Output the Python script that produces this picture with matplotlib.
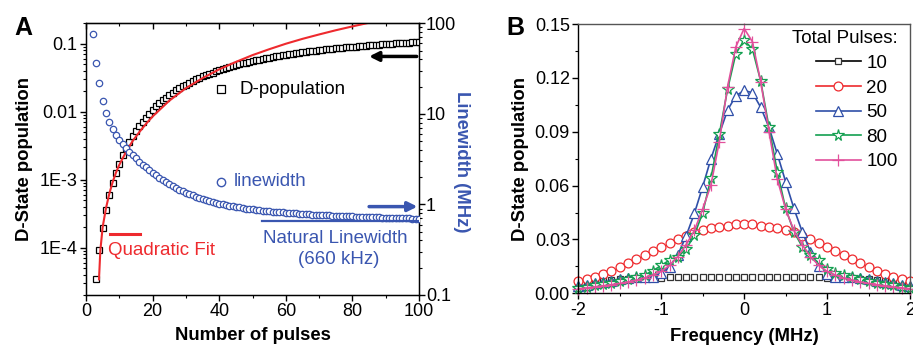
import numpy as np
import matplotlib
matplotlib.use("Agg")
import matplotlib.pyplot as plt
from matplotlib.lines import Line2D
from matplotlib.ticker import MultipleLocator, NullFormatter, LogLocator

plt.rcParams['font.family'] = ['Liberation Sans', 'DejaVu Sans']

# ---------------- Panel A data ----------------
pulses_d = list(range(3, 101))
d_pop = [3.4e-5, 9.2e-5, 1.95e-4, 3.55e-4, 5.9e-4, 8.9e-4, 1.26e-3, 1.7e-3, 2.27e-3, 2.9e-3,
         3.6e-3, 4.4e-3, 5.2e-3, 6.1e-3, 7.1e-3, 8.1e-3, 9.3e-3, 0.0106, 0.0120, 0.0133,
         0.0146, 0.0160, 0.0175, 0.0190, 0.0205, 0.0220, 0.0235, 0.0250, 0.0266, 0.0282,
         0.0298, 0.0314, 0.0330, 0.0346, 0.0362, 0.0377, 0.0392, 0.0407, 0.0422, 0.0437,
         0.0452, 0.0467, 0.0482, 0.0497, 0.0512, 0.0527, 0.0541, 0.0555, 0.0569, 0.0583,
         0.0597, 0.0611, 0.0625, 0.0638, 0.0651, 0.0664, 0.0677, 0.0690, 0.0702, 0.0714,
         0.0726, 0.0738, 0.0750, 0.0761, 0.0772, 0.0783, 0.0794, 0.0805, 0.0815, 0.0825,
         0.0835, 0.0845, 0.0855, 0.0865, 0.0874, 0.0883, 0.0892, 0.0901, 0.0910, 0.0919,
         0.0928, 0.0937, 0.0945, 0.0953, 0.0961, 0.0969, 0.0977, 0.0985, 0.0993, 0.1001,
         0.1009, 0.1017, 0.1024, 0.1031, 0.1038, 0.1045, 0.1052, 0.1059]

pulses_lw = list(range(2, 101))
linewidth = [75.7, 36.7, 21.8, 14.0, 10.3, 8.2, 6.76, 5.85, 5.15, 4.65,
             4.24, 3.83, 3.52, 3.23, 2.97, 2.75, 2.57, 2.40, 2.25, 2.10,
             1.98, 1.87, 1.77, 1.68, 1.60, 1.53, 1.46, 1.40, 1.35, 1.30,
             1.26, 1.22, 1.18, 1.15, 1.12, 1.09, 1.065, 1.04, 1.02, 1.0,
             0.98, 0.965, 0.95, 0.94, 0.925, 0.912, 0.90, 0.89, 0.88, 0.87,
             0.862, 0.855, 0.848, 0.841, 0.834, 0.828, 0.822, 0.816, 0.81, 0.805,
             0.80, 0.795, 0.79, 0.786, 0.782, 0.778, 0.774, 0.77, 0.766, 0.763,
             0.76, 0.757, 0.754, 0.751, 0.748, 0.745, 0.742, 0.74, 0.737, 0.735,
             0.732, 0.73, 0.728, 0.725, 0.723, 0.721, 0.719, 0.717, 0.715, 0.713,
             0.711, 0.709, 0.707, 0.705, 0.703, 0.701, 0.699, 0.697, 0.695]

fit_n = [3.9, 4.3, 5, 6, 7, 8, 9, 10, 12, 14, 16, 18, 20, 25, 30, 35, 40, 45, 50, 55,
         60, 65, 70, 75, 80, 85]
fit_y = [3.4e-5, 9.0e-5, 2.0e-4, 3.8e-4, 6.2e-4, 9.2e-4, 1.27e-3, 1.65e-3, 2.55e-3, 3.7e-3,
         5.0e-3, 6.6e-3, 8.5e-3, 0.0145, 0.0222, 0.0312, 0.042, 0.054, 0.068, 0.083,
         0.1, 0.118, 0.137, 0.158, 0.18, 0.204]

natural_lw = 0.66  # MHz

# ---------------- Panel B data ----------------
freq = np.round(np.arange(-2.0, 2.001, 0.1), 1)
pop10 = [0.0058, 0.0062, 0.0066, 0.0070, 0.0074, 0.0077, 0.0080, 0.0083, 0.0085, 0.0087,
         0.0088, 0.0089, 0.0090, 0.0090, 0.0091, 0.0091, 0.0092, 0.0092, 0.0092, 0.0092,
         0.0092,
         0.0092, 0.0092, 0.0092, 0.0092, 0.0091, 0.0091, 0.0090, 0.0090, 0.0089, 0.0088,
         0.0087, 0.0085, 0.0083, 0.0080, 0.0077, 0.0074, 0.0070, 0.0066, 0.0062, 0.0058]
pop20 = [0.0068, 0.0078, 0.0093, 0.0108, 0.0126, 0.0148, 0.0167, 0.0191, 0.0213, 0.0237,
         0.0256, 0.0278, 0.0301, 0.0319, 0.0340, 0.0352, 0.0362, 0.0371, 0.0377, 0.0384,
         0.0386,
         0.0384, 0.0377, 0.0371, 0.0362, 0.0352, 0.0340, 0.0319, 0.0301, 0.0278, 0.0256,
         0.0237, 0.0213, 0.0191, 0.0167, 0.0148, 0.0126, 0.0108, 0.0093, 0.0078, 0.0068]
pop50 = [0.0040, 0.0047, 0.0055, 0.0063, 0.0071, 0.0079, 0.0087, 0.0092, 0.0093, 0.0093,
         0.0111, 0.0148, 0.0213, 0.0319, 0.0445, 0.0594, 0.0750, 0.0887, 0.1020, 0.1100,
         0.1130,
         0.1117, 0.1036, 0.0924, 0.0776, 0.0622, 0.0473, 0.0343, 0.0232, 0.0152, 0.0107,
         0.0093, 0.0093, 0.0092, 0.0087, 0.0079, 0.0071, 0.0063, 0.0055, 0.0047, 0.0040]
pop80 = [0.0030, 0.0037, 0.0044, 0.0051, 0.0059, 0.0068, 0.0078, 0.0089, 0.0102, 0.0126,
         0.0155, 0.0185, 0.0205, 0.0245, 0.0325, 0.0448, 0.0642, 0.0885, 0.1136, 0.1335,
         0.1410,
         0.1360, 0.1182, 0.0924, 0.0677, 0.0473, 0.0343, 0.0260, 0.0213, 0.0185, 0.0134,
         0.0115, 0.0102, 0.0089, 0.0078, 0.0068, 0.0059, 0.0051, 0.0044, 0.0037, 0.0030]
pop100 = [0.0025, 0.0030, 0.0036, 0.0042, 0.0048, 0.0055, 0.0063, 0.0073, 0.0086, 0.0102,
          0.0122, 0.0155, 0.0205, 0.0270, 0.0350, 0.0470, 0.0603, 0.0844, 0.1150, 0.1373,
          0.1475,
          0.1401, 0.1178, 0.0900, 0.0635, 0.0470, 0.0350, 0.0270, 0.0205, 0.0155, 0.0122,
          0.0102, 0.0086, 0.0073, 0.0063, 0.0055, 0.0048, 0.0042, 0.0036, 0.0030, 0.0025]
pulse_labels = ['10', '20', '50', '80', '100']

BLUE = '#3a56b0'
RED = '#ee2a2e'
TICK_FS = 13
TXT_FS = 13.5
LAB_FS = 13.3

fig = plt.figure(figsize=(9.13, 3.46), dpi=100)

# ---------------- Panel A ----------------
ax = fig.add_axes([0.0942, 0.1474, 0.3648, 0.7853])
ax.set_yscale('log')
ax.set_xlim(0, 100)
ax.set_ylim(2e-5, 0.2)
ax.plot(pulses_d, d_pop, ls='none', marker='s', ms=4.3, mfc='white', mec='black', mew=0.9, zorder=3)
ax.plot(fit_n, fit_y, color=RED, lw=1.5, zorder=4, clip_on=True)

ax.xaxis.set_major_locator(MultipleLocator(20))
ax.xaxis.set_minor_locator(MultipleLocator(10))
ax.set_yticks([1e-4, 1e-3, 1e-2, 1e-1])
ax.set_yticklabels(['1E-4', '1E-3', '0.01', '0.1'])
ax.yaxis.set_minor_locator(LogLocator(base=10, subs=np.arange(2, 10)))
ax.yaxis.set_minor_formatter(NullFormatter())
ax.tick_params(axis='both', which='major', labelsize=TICK_FS, direction='out', length=4, width=1, pad=2)
ax.tick_params(axis='both', which='minor', direction='out', length=2.5, width=0.8)
for sp in ax.spines.values():
    sp.set_linewidth(1.0)
ax.set_xlabel('Number of pulses', fontsize=LAB_FS, fontweight='bold', va='top')
ax.xaxis.set_label_coords(0.5, -0.118)
ax.set_ylabel('D-State population', fontsize=LAB_FS, fontweight='bold')
ax.yaxis.set_label_coords(-0.159, 0.5)

top = ax.secondary_xaxis('top')
top.xaxis.set_major_locator(MultipleLocator(20))
top.xaxis.set_minor_locator(MultipleLocator(10))
top.tick_params(axis='x', which='major', direction='in', length=4, width=1, labeltop=False)
top.tick_params(axis='x', which='minor', direction='in', length=2.5, width=0.8)

ax2 = ax.twinx()
ax2.set_yscale('log')
ax2.set_ylim(0.1, 100)
ax2.plot(pulses_lw, linewidth, ls='none', marker='o', ms=4.6, mfc='white', mec=BLUE, mew=0.9, zorder=3)
ax2.plot([52.7, 100], [natural_lw, natural_lw], color=BLUE, lw=1.6, zorder=4)
ax2.set_yticks([0.1, 1, 10, 100])
ax2.set_yticklabels(['0.1', '1', '10', '100'])
ax2.yaxis.set_minor_locator(LogLocator(base=10, subs=np.arange(2, 10)))
ax2.yaxis.set_minor_formatter(NullFormatter())
ax2.tick_params(axis='y', which='major', labelsize=TICK_FS, direction='out', length=4, width=1, pad=1)
ax2.tick_params(axis='y', which='minor', direction='out', length=2.5, width=0.8)
ax2.set_ylabel('Linewidth (MHz)', fontsize=LAB_FS, fontweight='bold', color=BLUE, rotation=270)
ax2.yaxis.set_label_coords(1.153, 0.49)

# annotations panel A
ax.plot([40.5], [0.0212], ls='none', marker='s', ms=5.5, mfc='white', mec='black', mew=0.9)
ax.text(46, 0.0212, 'D-population', fontsize=TXT_FS, va='center', ha='left')
ax2.plot([40.5], [1.79], ls='none', marker='o', ms=6, mfc='white', mec=BLUE, mew=1)
ax2.text(44.5, 1.79, 'linewidth', fontsize=TXT_FS, va='center', ha='left', color=BLUE)
ax.plot([7.2, 16.2], [1.6e-4, 1.6e-4], color=RED, lw=2.2)
ax.text(6.7, 8.9e-5, 'Quadratic Fit', fontsize=TXT_FS, va='center', ha='left', color=RED)
ax2.text(75, 0.42, 'Natural Linewidth', fontsize=TXT_FS, va='center', ha='center', color=BLUE)
ax2.text(76, 0.245, '(660 kHz)', fontsize=TXT_FS, va='center', ha='center', color=BLUE)
ax.annotate('', xy=(85, 0.065), xytext=(99.3, 0.065),
            arrowprops=dict(arrowstyle='-|>', lw=2.5, color='black', mutation_scale=14,
                            shrinkA=0, shrinkB=0))
ax2.annotate('', xy=(99.5, 0.946), xytext=(85, 0.946),
             arrowprops=dict(arrowstyle='-|>', lw=2.5, color=BLUE, mutation_scale=14,
                             shrinkA=0, shrinkB=0))
fig.text(0.016, 0.955, 'A', fontsize=18, fontweight='bold', va='top', ha='left')

# ---------------- Panel B ----------------
bx = fig.add_axes([0.6334, 0.1523, 0.3633, 0.7783])
styles = [
    dict(color='black', marker='s', ms=5.0, line=False, mec='#333333'),
    dict(color=RED, marker='o', ms=6.4, line=False, mec=RED),
    dict(color='#2f4fa8', marker='^', ms=7.5, line=True, mec='#2f4fa8'),
    dict(color='#13a050', marker='*', ms=8.5, line=True, mec='#13a050'),
    dict(color='#e2509c', marker='+', ms=8, line=True, mec='#e2509c'),
]
series = [pop10, pop20, pop50, pop80, pop100]
handles = []
for vals, st, lab in zip(series, styles, pulse_labels):
    mfc = 'white' if st['marker'] != '+' else st['color']
    bx.plot(freq, vals, color=st['color'], lw=1.2 if st['line'] else 0,
            ls='-' if st['line'] else 'none', marker=st['marker'], ms=st['ms'],
            mfc=mfc, mec=st['mec'], mew=0.9, clip_on=False)
    handles.append(Line2D([], [], color=st['color'], lw=1.2, marker=st['marker'], ms=st['ms'],
                          mfc=mfc, mec=st['mec'], mew=0.9, label=lab))
bx.set_xlim(-2, 2)
bx.set_ylim(0, 0.15)
bx.set_xticks([-2, -1, 0, 1, 2])
bx.set_xticklabels(['-2', '-1', '0', '1', '2'])
bx.xaxis.set_minor_locator(MultipleLocator(0.5))
bx.set_yticks([0, 0.03, 0.06, 0.09, 0.12, 0.15])
bx.set_yticklabels(['0.00', '0.03', '0.06', '0.09', '0.12', '0.15'])
bx.yaxis.set_minor_locator(MultipleLocator(0.015))
bx.tick_params(axis='both', which='major', labelsize=TICK_FS, direction='out', length=4, width=1, pad=2)
bx.tick_params(axis='both', which='minor', direction='out', length=2.5, width=0.8)
for sp in bx.spines.values():
    sp.set_linewidth(1.0)
bx.spines['top'].set_color('#555555')
bx.spines['right'].set_color('#555555')
bx.set_xlabel('Frequency (MHz)', fontsize=LAB_FS, fontweight='bold', va='top')
bx.xaxis.set_label_coords(0.5, -0.127)
bx.set_ylabel('D-State population', fontsize=LAB_FS, fontweight='bold')
bx.yaxis.set_label_coords(-0.149, 0.5)
leg = bx.legend(handles=handles, title='Total Pulses:', loc='upper right', bbox_to_anchor=(1.0, 1.022),
                frameon=False, fontsize=TXT_FS, title_fontsize=TXT_FS, handlelength=2.4,
                handletextpad=0.3, labelspacing=0.4, borderpad=0.15, numpoints=1)
leg._legend_box.align = 'right'
fig.text(0.555, 0.955, 'B', fontsize=18, fontweight='bold', va='top', ha='left')

fig.savefig('out.png', dpi=100)
